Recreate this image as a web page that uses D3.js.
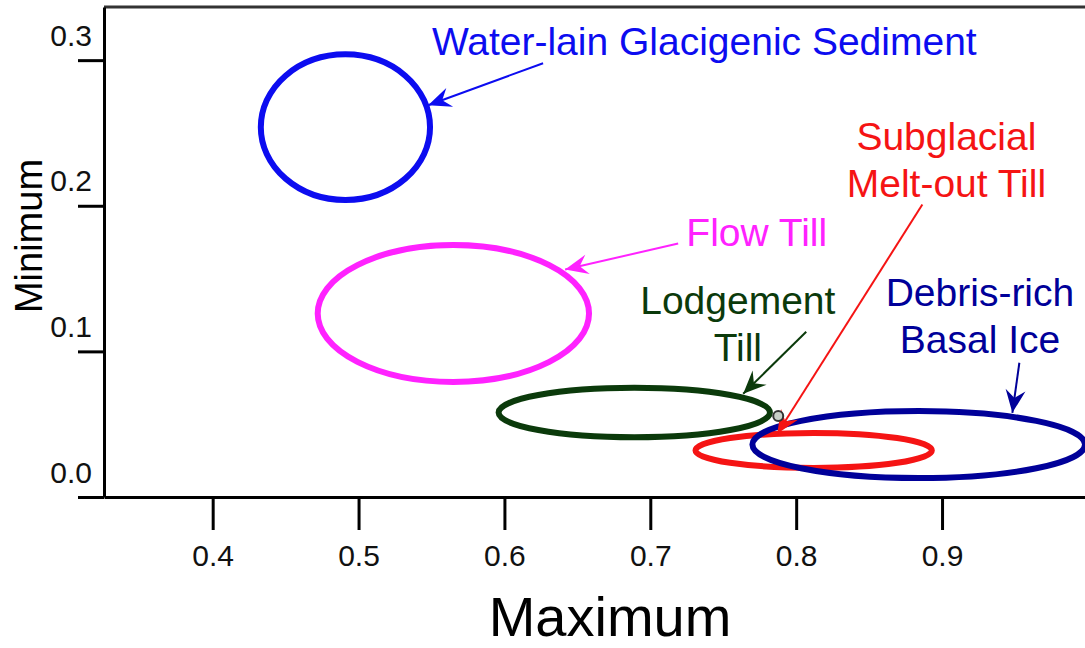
<!DOCTYPE html>
<html>
<head>
<meta charset="utf-8">
<script src="https://cdn.jsdelivr.net/npm/d3@7"></script>
<style>
  body { margin: 0; background: #fff; }
  text { font-family: "Liberation Sans", Arial, sans-serif; }
</style>
</head>
<body>
<div id="chart"></div>
<script>
// Data
var groups = ["Water-lain Glacigenic Sediment", "Flow Till", "Lodgement Till", "Subglacial Melt-out Till", "Debris-rich Basal Ice"];
var centerMax = [0.491, 0.565, 0.689, 0.812, 0.884];
var centerMin = [0.254, 0.126, 0.058, 0.032, 0.036];
var spreadMax = [0.058, 0.093, 0.093, 0.081, 0.114];
var spreadMin = [0.050, 0.047, 0.017, 0.012, 0.023];
var colors = ["#0c0cf0", "#ff22ff", "#0b3a0b", "#f51414", "#000099"];

// label lines and where they sit (data units)
var labelLines = [["Water-lain Glacigenic Sediment"], ["Flow Till"], ["Lodgement", "Till"], ["Subglacial", "Melt-out Till"], ["Debris-rich", "Basal Ice"]];
var labelMax = [0.737, 0.773, 0.760, 0.903, 0.926];
var labelMin = [0.3034, 0.1727, 0.1259, 0.2381, 0.1314];

// arrows: from -> to (data units)
var arrowFromMax = [0.6265, 0.7191, 0.8069, 0.8865, 0.9530];
var arrowFromMin = [0.2979, 0.1741, 0.1135, 0.2009, 0.0922];
var arrowToMax = [0.5477, 0.6416, 0.7637, 0.7870, 0.9482];
var arrowToMin = [0.2690, 0.1562, 0.0709, 0.0434, 0.0578];

// single grey sample point
var pointMax = [0.7877];
var pointMin = [0.0557];

var xTicks = [0.4, 0.5, 0.6, 0.7, 0.8, 0.9];
var yTicks = [0.0, 0.1, 0.2, 0.3];

// Variables
var margin = { top: 7, right: 0, bottom: 152, left: 104 };
var width = 1085 - margin.left - margin.right;
var height = 648 - margin.top - margin.bottom + 1;

var x = d3.scaleLinear()
    .domain([0.3255, 0.998])
    .range([0, width]);

var y = d3.scaleLinear()
    .domain([0, 0.3365])
    .range([height, 0]);

var svg = d3.select("#chart")
    .append("svg")
    .attr("width", 1085)
    .attr("height", 648);

var g = svg.append("g")
    .attr("transform", "translate(" + margin.left + "," + margin.top + ")");

// arrow heads, one per colour
var defs = svg.append("defs");
colors.forEach(function(c, i) {
  defs.append("marker")
      .attr("id", "head" + i)
      .attr("viewBox", "-24 -11 26 22")
      .attr("markerUnits", "userSpaceOnUse")
      .attr("markerWidth", 26)
      .attr("markerHeight", 22)
      .attr("refX", 0)
      .attr("refY", 0)
      .attr("orient", "auto")
    .append("path")
      .attr("d", "M0,0 L-23,-10 L-15,0 L-23,10 Z")
      .style("fill", c);
});

// top frame line
g.append("line")
    .attr("x1", 0).attr("x2", width)
    .attr("y1", 0).attr("y2", 0)
    .style("stroke", "#333")
    .style("stroke-width", 3);

// axes
var xAxis = g.append("g")
    .attr("transform", "translate(0," + height + ")")
    .call(d3.axisBottom(x).tickValues(xTicks).tickSize(33).tickSizeOuter(0).tickPadding(10).tickFormat(d3.format(".1f")));

var yAxis = g.append("g")
    .call(d3.axisLeft(y).tickValues(yTicks).tickSize(26).tickSizeOuter(0).tickPadding(12).tickFormat(d3.format(".1f")));

[xAxis, yAxis].forEach(function(a) {
  a.select(".domain").style("stroke", "#000").style("stroke-width", 3);
  a.selectAll(".tick line").style("stroke", "#000").style("stroke-width", 3);
  a.selectAll(".tick text")
      .style("font-size", "30px")
      .style("fill", "#111")
      .style("font-family", "'Liberation Sans', Arial, sans-serif");
});
xAxis.selectAll(".tick text").attr("y", 48);
yAxis.selectAll(".tick text").attr("x", -12).attr("dy", "-0.5em");

// ellipses
g.selectAll(".zone")
    .data(groups)
    .enter()
    .append("ellipse")
    .attr("class", "zone")
    .attr("cx", function(d, i) { return x(centerMax[i]); })
    .attr("cy", function(d, i) { return y(centerMin[i]); })
    .attr("rx", function(d, i) { return x(centerMax[i] + spreadMax[i]) - x(centerMax[i]); })
    .attr("ry", function(d, i) { return y(0) - y(spreadMin[i]); })
    .style("fill", "none")
    .style("stroke", function(d, i) { return colors[i]; })
    .style("stroke-width", 6);

// arrows
g.selectAll(".arrow")
    .data(groups)
    .enter()
    .append("line")
    .attr("class", "arrow")
    .attr("x1", function(d, i) { return x(arrowFromMax[i]); })
    .attr("y1", function(d, i) { return y(arrowFromMin[i]); })
    .attr("x2", function(d, i) { return x(arrowToMax[i]); })
    .attr("y2", function(d, i) { return y(arrowToMin[i]); })
    .style("stroke", function(d, i) { return colors[i]; })
    .style("stroke-width", 2)
    .attr("marker-end", function(d, i) { return "url(#head" + i + ")"; });

// labels
var labels = g.selectAll(".label")
    .data(groups)
    .enter()
    .append("text")
    .attr("class", "label")
    .attr("text-anchor", "middle")
    .style("font-size", "39px")
    .style("fill", function(d, i) { return colors[i]; });

labels.each(function(d, i) {
  var t = d3.select(this);
  labelLines[i].forEach(function(line, j) {
    t.append("tspan")
        .attr("x", x(labelMax[i]))
        .attr("y", y(labelMin[i]) + j * 47)
        .text(line);
  });
});

// grey point
g.selectAll(".pt")
    .data(pointMax)
    .enter()
    .append("circle")
    .attr("cx", function(d) { return x(d); })
    .attr("cy", function(d, i) { return y(pointMin[i]); })
    .attr("r", 5)
    .style("fill", "#c8cfc8")
    .style("stroke", "#333")
    .style("stroke-width", 2);

// axis titles
svg.append("text")
    .attr("x", 610)
    .attr("y", 636)
    .attr("text-anchor", "middle")
    .style("font-size", "56px")
    .style("fill", "#000")
    .text("Maximum");

svg.append("text")
    .attr("transform", "translate(42,236) rotate(-90)")
    .attr("text-anchor", "middle")
    .style("font-size", "38px")
    .style("fill", "#000")
    .text("Minimum");
</script>
</body>
</html>
